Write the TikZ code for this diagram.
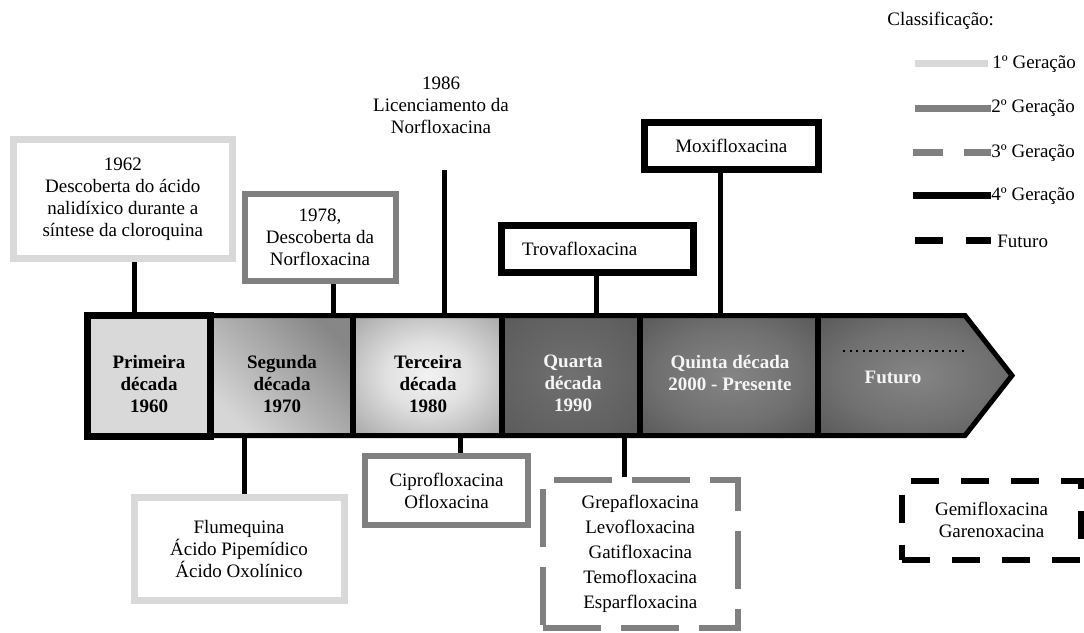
\documentclass[tikz,border=0pt]{standalone}
\usepackage{fontspec}
\setmainfont{Liberation Serif}

\definecolor{gerA}{HTML}{D9D9D9}
\definecolor{gerB}{HTML}{808080}
\pgfdeclareradialshading{TERCEIRA}{\pgfpointorigin}{color(0bp)=(black!5); color(14bp)=(black!12); color(50bp)=(black!50); color(80bp)=(black!52)}
\pgfdeclareradialshading{QUARTA}{\pgfpointorigin}{color(0bp)=(black!56); color(50bp)=(black!68); color(80bp)=(black!70)}
\pgfdeclareradialshading{QUINTA}{\pgfpointorigin}{color(0bp)=(black!48); color(20bp)=(black!56); color(50bp)=(black!74); color(80bp)=(black!76)}

\begin{document}
\begin{tikzpicture}[x=0.5pt,y=-0.5pt,
  every node/.style={font=\fontsize{9.5}{11}\selectfont, align=center, inner sep=0pt},
  gen1/.style={draw=gerA, line width=3.5pt, fill=white},
  gen2/.style={draw=gerB, line width=3pt, fill=white},
  gen3/.style={draw=gerB, line width=3pt, dash pattern=on 29pt off 10pt, fill=white},
  gen4/.style={draw=black, line width=3.5pt, fill=white},
  futbox/.style={draw=black, line width=3pt, dash pattern=on 14pt off 11pt, fill=white},
  era/.style={font=\fontsize{9.5}{11}\bfseries\selectfont},
  eradark/.style={era, text=black!4},
  conn/.style={line width=2.5pt},
  legline/.style={line width=3.5pt}]
\useasboundingbox (0,0) rectangle (1084,633);

\coordinate (P1) at (134,315.5);
\coordinate (P2) at (333,315.5);
\coordinate (P3) at (444,315.5);
\coordinate (Q3) at (444,170);
\coordinate (P4) at (596,315.5);
\coordinate (P5) at (720,315.5);
\coordinate (R2) at (244.5,435.5);
\coordinate (R3) at (460,435.5);
\coordinate (R4) at (624,435.5);

\draw [conn] (Q3) to (P3);

\node [gen1, minimum width=109.25pt, minimum height=59.5pt] (B1962) at (122.75,199)
  {1962\\Descoberta do ácido\\nalidíxico durante a\\síntese da cloroquina};
\node [gen2, minimum width=75.5pt, minimum height=43.5pt] (B1978) at (320,237.5)
  {1978,\\Descoberta da\\Norfloxacina};
\node (T1986) at (441,105) {1986\\Licenciamento da\\Norfloxacina};
\node [gen4, minimum height=23.5pt, text width=75.5pt, align=left, inner xsep=10.25pt] (TROVA) at (597.5,249) {Trovafloxacina};
\node [gen4, minimum width=87.25pt, minimum height=23.5pt] (MOXI) at (731.25,146) {Moxifloxacina};

\node [gen1, minimum width=105pt, minimum height=51.5pt] (FLUME) at (239,549)
  {Flumequina\\Ácido Pipemídico\\Ácido Oxolínico};
\node [gen2, minimum width=81.5pt, minimum height=34.5pt] (CIPRO) at (446.5,490.5)
  {Ciprofloxacina\\Ofloxacina};
\node [gen3, minimum width=97.25pt, minimum height=74pt, font=\fontsize{9.5}{12.5}\selectfont] (GREPA) at (640.25,554)
  {Grepafloxacina\\Levofloxacina\\Gatifloxacina\\Temofloxacina\\Esparfloxacina};
\node [futbox, minimum width=89.5pt, minimum height=39.25pt] (GEMI) at (991.5,520.25)
  {Gemifloxacina\\Garenoxacina};

\draw [conn] (B1962.south -| P1) to (P1);
\draw [conn] (B1978.south -| P2) to (P2);
\draw [conn] (TROVA.south -| P4) to (P4);
\draw [conn] (MOXI.south -| P5) to (P5);
\draw [conn] (R2) to (FLUME.north -| R2);
\draw [conn] (R3) to (CIPRO.north -| R3);
\draw [conn] (R4) to (GREPA.north -| R4);

\shade [top color=black!47, bottom color=black!16, shading angle=-45] (210.5,315.5) rectangle (353,435.5);
\shade [shading=TERCEIRA] (353,315.5) rectangle (502,435.5);
\shade [shading=QUARTA] (502,315.5) rectangle (640,435.5);
\shade [shading=QUINTA] (640,315.5) rectangle (818,435.5);
\shade [shading=QUINTA] (818,315.5) -- (965,315.5) -- (1012,375.5) -- (965,435.5) -- (818,435.5) -- cycle;
\draw [line width=2.5pt] (87,315.5) -- (965,315.5) -- (1012,375.5) -- (965,435.5) -- (87,435.5) -- cycle;
\foreach \x in {353,502,640,818}
  \draw [line width=2.7pt] (\x,315.5) -- (\x,435.5);
\filldraw [fill=gerA, line width=3.5pt] (87,315.5) rectangle (210.5,436);
\draw [line width=1.1pt, dash pattern=on 1.1pt off 2.2pt] (843,351) -- (967,351);

\node [era] (PRIM) at (149,384) {Primeira\\década\\1960};
\node [era] (SEGU) at (282,384) {Segunda\\década\\1970};
\node [era] (TERC) at (428,384) {Terceira\\década\\1980};
\node [eradark] (QUAR) at (573,383) {Quarta\\década\\1990};
\node [eradark] (QUIN) at (730,373) {Quinta década\\2000 - Presente};
\node [eradark] (FUTU) at (893,377) {Futuro};

\node [anchor=west] (CLASS) at (887,21) {Classificação:};
\node [anchor=west] (L1) at (992,64) {1º Geração};
\node [anchor=west] (L2) at (991,108) {2º Geração};
\node [anchor=west] (L3) at (991,153) {3º Geração};
\node [anchor=west] (L4) at (991,196) {4º Geração};
\node [anchor=west] (L5) at (997,241) {Futuro};
\draw [legline, gerA] (915,63) -- (988,63);
\draw [legline, gerB] (915,108) -- (991,108);
\draw [legline, gerB, dash pattern=on 15pt off 10.5pt] (913,152) -- (991,152);
\draw [legline, black] (913,195) -- (991,195);
\draw [legline, black, dash pattern=on 14pt off 11.5pt] (915,240) -- (991,240);
\end{tikzpicture}
\end{document}
